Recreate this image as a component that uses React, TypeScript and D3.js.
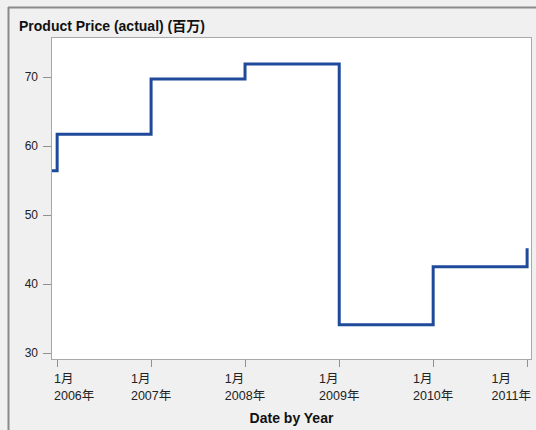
import React, { useEffect, useRef } from 'react';
import * as d3 from 'd3';

// step data (月次の価格, 百万)
const dates = ['2005-12-12', '2006-01-01', '2007-01-01', '2008-01-01', '2009-01-01', '2010-01-01', '2011-01-01'];
const prices = [56.4, 61.7, 69.7, 71.9, 34.1, 42.5, 45.2];
const yTicks = [30, 40, 50, 60, 70];
const xTickYears = [2006, 2007, 2008, 2009, 2010, 2011];

const title = 'Product Price (actual) (百万)';
const xTitle = 'Date by Year';

const FONT = "'Liberation Sans Narrow', 'Liberation Sans', 'Noto Sans CJK JP', sans-serif";
const BOLD = "'Liberation Sans', 'Noto Sans CJK JP', sans-serif";

const App = () => {
  const ref = useRef<SVGSVGElement | null>(null);

  useEffect(() => {
    const width = 536;
    const height = 430;
    const left = 51, right = 532, top = 37, bottom = 359;

    const svg = d3.select(ref.current);
    svg.selectAll('*').remove();

    // panel background + border
    svg.append('rect').attr('width', width).attr('height', height).attr('fill', '#f0f0f0');
    svg.append('line').attr('x1', 8).attr('x2', width).attr('y1', 7.5).attr('y2', 7.5)
      .attr('stroke', '#8a8a8a').attr('stroke-width', 2);
    svg.append('line').attr('x1', 8.5).attr('x2', 8.5).attr('y1', 7).attr('y2', height)
      .attr('stroke', '#8a8a8a').attr('stroke-width', 2);

    svg.append('text')
      .attr('x', 19).attr('y', 31)
      .attr('font-family', BOLD).attr('font-weight', 'bold').attr('font-size', 14)
      .attr('fill', '#111')
      .text(title);

    const parse = d3.timeParse('%Y-%m-%d');
    const data = dates.map((d, i) => ({ date: parse(d) as Date, value: prices[i] }));

    const x = d3.scaleTime()
      .domain([new Date(2005, 11, 12), new Date(2011, 0, 20)])
      .range([left + 1, right]);
    const y = d3.scaleLinear()
      .domain([29.13, 75.8])
      .range([bottom, top]);

    svg.append('rect')
      .attr('x', left + 0.5).attr('y', top + 0.5)
      .attr('width', right - left - 1).attr('height', bottom - top)
      .attr('fill', '#fff').attr('stroke', '#a8a8a8');

    // y axis
    const gy = svg.append('g');
    gy.selectAll('line').data(yTicks).join('line')
      .attr('x1', left - 8).attr('x2', left)
      .attr('y1', d => Math.round(y(d)) + 0.5).attr('y2', d => Math.round(y(d)) + 0.5)
      .attr('stroke', '#909090');
    gy.selectAll('text').data(yTicks).join('text')
      .attr('x', left - 13).attr('y', d => y(d))
      .attr('dy', '0.36em').attr('text-anchor', 'end')
      .attr('font-family', FONT).attr('font-size', 12).attr('fill', '#222')
      .text(d => d);

    // x axis
    const gx = svg.append('g');
    const tickDates = xTickYears.map(yr => new Date(yr, 0, 1));
    gx.selectAll('line').data(tickDates).join('line')
      .attr('x1', d => Math.round(x(d)) + 0.5).attr('x2', d => Math.round(x(d)) + 0.5)
      .attr('y1', bottom + 1).attr('y2', bottom + 8)
      .attr('stroke', '#909090');
    const lbl = gx.selectAll('g').data(tickDates).join('g');
    lbl.append('text').attr('y', 383).text('1月');
    lbl.append('text').attr('y', 400).text(d => `${d.getFullYear()}年`);
    lbl.selectAll('text')
      .attr('font-family', FONT).attr('font-size', 12.5).attr('fill', '#222');
    lbl.each(function (d) {
      const g = d3.select(this);
      const w = (this as SVGGElement).getBBox().width;
      let lx = x(d) - w / 2;
      lx = Math.max(left + 3, Math.min(right - 1 - w, lx));
      g.attr('transform', `translate(${lx},0)`);
    });

    svg.append('text')
      .attr('x', (left + right) / 2).attr('y', 423)
      .attr('text-anchor', 'middle')
      .attr('font-family', BOLD).attr('font-weight', 'bold').attr('font-size', 14)
      .attr('fill', '#111')
      .text(xTitle);

    // step line
    const line = d3.line<{ date: Date; value: number }>()
      .x(d => x(d.date))
      .y(d => y(d.value))
      .curve(d3.curveStepAfter);
    svg.append('path')
      .datum(data)
      .attr('fill', 'none')
      .attr('stroke', '#1f4a9c')
      .attr('stroke-width', 3)
      .attr('stroke-linejoin', 'miter')
      .attr('d', line);
  }, []);

  return (
    <div style={{ position: 'absolute', left: 0, top: 0 }}>
      <svg ref={ref} width={536} height={430} style={{ display: 'block' }} />
    </div>
  );
};

export default App;
